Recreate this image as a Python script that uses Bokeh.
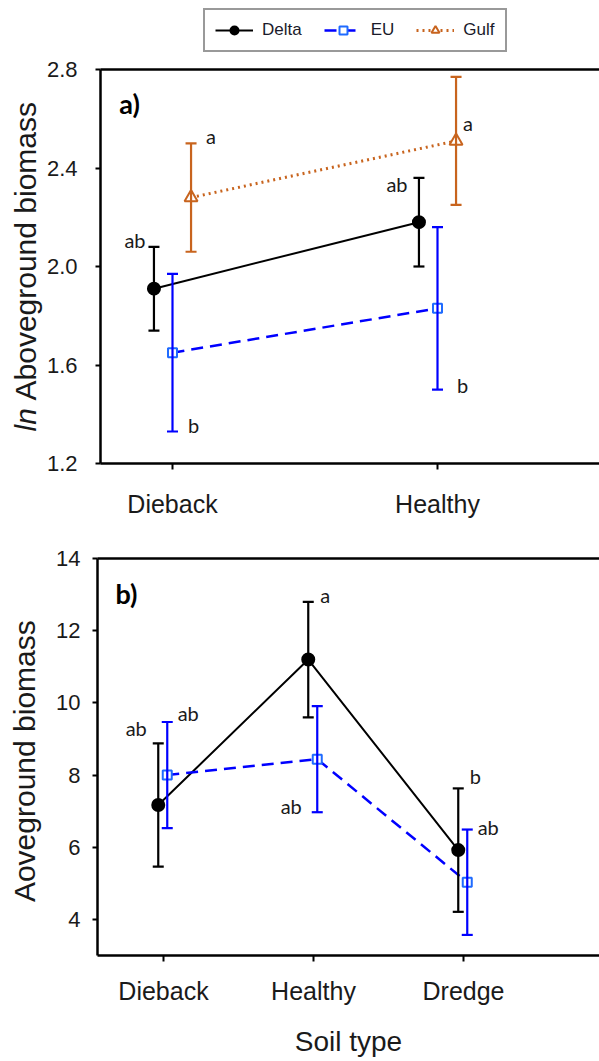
import math
from bokeh.plotting import figure
from bokeh.models import (ColumnDataSource, Whisker, TeeHead, FixedTicker, Legend,
                          LegendItem, Label, LinearAxis, Range1d, PrintfTickFormatter)
from bokeh.layouts import column
from bokeh.embed import file_html
from bokeh.resources import INLINE
from bokeh.core.properties import value

# ---------------- data ----------------
a_soils = ["Dieback", "Healthy"]
a_delta_mean = [1.91, 2.18]
a_delta_se = [0.17, 0.18]
a_eu_mean = [1.65, 1.83]
a_eu_se = [0.32, 0.33]
a_gulf_mean = [2.28, 2.51]
a_gulf_se = [0.22, 0.26]
a_delta_letters = ["ab", "ab"]
a_eu_letters = ["b", "b"]
a_gulf_letters = ["a", "a"]
a_yticks = [1.2, 1.6, 2.0, 2.4, 2.8]

b_soils = ["Dieback", "Healthy", "Dredge"]
b_delta_mean = [7.17, 11.2, 5.92]
b_delta_se = [1.71, 1.6, 1.71]
b_eu_mean = [8.0, 8.44, 5.03]
b_eu_se = [1.47, 1.47, 1.46]
b_delta_letters = ["ab", "a", "b"]
b_eu_letters = ["ab", "ab", "ab"]
b_yticks = [4, 6, 8, 10, 12, 14]

series_names = ["Delta", "EU", "Gulf"]

# ---------------- styles ----------------
BLACK = "#000000"
BLUE = "#0000ff"
BLUE_MK = "#1f6bff"
ORANGE = "#c8641e"
TXT = "#1a1a1a"
TICK_FONT = "Liberation Sans"
LETTER_FONT = "Lato"
W = 599

# letter placement: (anchor, dx px, dy px)
a_delta_lpos = [("hi", -19, -7), ("hi", -22, 6)]
a_eu_lpos = [("lo", 21, -6), ("lo", 25, -5)]
a_gulf_lpos = [("hi", 20, -7), ("mid", 12, -18)]
b_delta_lpos = [("hi", -22, -15), ("hi", 17, -7), ("hi", 17, -12)]
b_eu_lpos = [("hi", 21, -9), ("lo", -26, -6), ("hi", 21, -3)]


def style_axis(ax):
    ax.axis_line_width = 2.5
    ax.axis_line_color = BLACK
    ax.major_tick_line_width = 2
    ax.major_tick_line_color = BLACK
    ax.major_tick_in = 0
    ax.major_tick_out = 5
    ax.minor_tick_line_color = None
    ax.major_label_text_font = TICK_FONT
    ax.major_label_text_color = TXT


def setup(p, x_axis_at, y_axis_at, xend, ybot, ytop, yticks, xticks, xlabels, y_standoff, yfmt):
    p.xgrid.visible = False
    p.ygrid.visible = False
    p.outline_line_color = None
    xax = p.below[0]
    yax = p.left[0]
    style_axis(xax)
    style_axis(yax)
    yax.fixed_location = y_axis_at
    yax.bounds = (ybot, ytop)
    yax.ticker = FixedTicker(ticks=yticks)
    yax.formatter = PrintfTickFormatter(format=yfmt)
    yax.major_label_text_font_size = "22px"
    yax.major_label_standoff = y_standoff
    xax.fixed_location = x_axis_at
    xax.bounds = (y_axis_at, xend)
    xax.ticker = FixedTicker(ticks=xticks)
    xax.major_label_overrides = {t: lab for t, lab in zip(xticks, xlabels)}
    xax.major_label_text_font_size = "25px"
    xax.major_tick_out = 6
    top = LinearAxis(ticker=FixedTicker(ticks=[]), major_label_text_font_size="0px",
                     major_tick_line_color=None, minor_tick_line_color=None,
                     axis_line_width=2.5, axis_line_color=BLACK, major_label_standoff=0,
                     fixed_location=ytop, bounds=(y_axis_at, xend))
    p.add_layout(top, "above")
    return xax, yax


def add_series(p, xs, means, ses, color, err_color, marker, msize, mfill, mline,
               dash, lwidth, letters, lpos):
    lo = [m - s for m, s in zip(means, ses)]
    hi = [m + s for m, s in zip(means, ses)]
    src = ColumnDataSource(dict(x=xs, y=means, lo=lo, hi=hi))
    w = Whisker(source=src, base="x", lower="lo", upper="hi", line_color=err_color,
                line_width=2.2, level="glyph",
                upper_head=TeeHead(size=11, line_color=err_color, line_width=2.2),
                lower_head=TeeHead(size=11, line_color=err_color, line_width=2.2))
    p.add_layout(w)
    ln = p.line("x", "y", source=src, line_color=color, line_width=lwidth, line_dash=dash)
    sc = p.scatter("x", "y", source=src, marker=marker, size=msize, fill_color=mfill,
                   line_color=mline, line_width=2)
    lx, ly, ldx, ldy = [], [], [], []
    for i, (anchor, dx, dy) in enumerate(lpos):
        lx.append(xs[i])
        ly.append({"hi": hi[i], "lo": lo[i], "mid": means[i]}[anchor])
        ldx.append(dx)
        ldy.append(dy)
    tsrc = ColumnDataSource(dict(x=lx, y=ly, t=letters, dx=ldx, dy=ldy))
    p.text("x", "y", text="t", x_offset="dx", y_offset="dy", source=tsrc,
           text_align="center", text_baseline="middle", text_font=value(LETTER_FONT),
           text_font_size="20px", text_color=TXT)
    return ln, sc


# ---------------- panel a ----------------
# frame covers the whole canvas; axes are placed at fixed locations
HA = 530
a_x = [i + 1 for i in range(len(a_soils))]
off_a = {"Delta": -0.07, "EU": 0.0, "Gulf": 0.07}
a_ppu = 265.0           # px per category step
a_left = 1 - 72 / a_ppu  # y-axis position
a_ypx = 394 / 1.6        # px per unit
pa = figure(width=W, height=HA, output_backend="svg", toolbar_location=None,
            x_range=Range1d(1 - 172 / a_ppu, 2 + (W - 437) / a_ppu),
            y_range=Range1d(1.2 - (HA - 463) / a_ypx, 2.8 + 69 / a_ypx),
            min_border=0)
pa.min_border_left = pa.min_border_right = pa.min_border_top = pa.min_border_bottom = 0
setup(pa, 1.2, a_left, 2 + (W - 437) / a_ppu, 1.2, 2.8, a_yticks, a_x, a_soils, 18, "%.1f")
pa.below[0].major_label_standoff = 20

l1, s1 = add_series(pa, [x + off_a["Delta"] for x in a_x], a_delta_mean, a_delta_se, BLACK, BLACK,
                    "circle", 12, BLACK, BLACK, "solid", 2, a_delta_letters, a_delta_lpos)
l2, s2 = add_series(pa, [x + off_a["EU"] for x in a_x], a_eu_mean, a_eu_se, BLUE, BLUE,
                    "square", 9, "white", BLUE_MK, "12 7", 2.5, a_eu_letters, a_eu_lpos)
l3, s3 = add_series(pa, [x + off_a["Gulf"] for x in a_x], a_gulf_mean, a_gulf_se, ORANGE, ORANGE,
                    "triangle", 13, "white", ORANGE, "2 4", 3, a_gulf_letters, a_gulf_lpos)

pa.add_layout(Label(x=129, y=HA - 103, x_units="screen", y_units="screen", text="a)",
                    text_font=LETTER_FONT, text_font_style="bold", text_font_size="27px",
                    text_align="center", text_baseline="middle", text_color=BLACK))
pa.add_layout(Label(x=25, y=HA - 431, x_units="screen", y_units="screen", text="ln",
                    angle=math.pi / 2, text_font=TICK_FONT, text_font_style="italic",
                    text_font_size="30px", text_align="left", text_baseline="middle",
                    text_color=TXT))
pa.add_layout(Label(x=25, y=HA - 400, x_units="screen", y_units="screen",
                    text="Aboveground  biomass", angle=math.pi / 2, text_font=TICK_FONT,
                    text_font_size="30px", text_align="left", text_baseline="middle",
                    text_color=TXT))

legend = Legend(items=[LegendItem(label=series_names[0], renderers=[l1, s1]),
                       LegendItem(label=series_names[1], renderers=[l2, s2]),
                       LegendItem(label=series_names[2], renderers=[l3, s3])],
                location=(203, HA - 52), orientation="horizontal",
                border_line_color="#333333", border_line_width=2, padding=10,
                spacing=22, label_standoff=9, glyph_width=38, glyph_height=20,
                label_text_font=TICK_FONT, label_text_font_size="17px",
                label_text_color="#1a1a2a", margin=0)
pa.add_layout(legend)

# ---------------- panel b ----------------
HB = 531
b_x = [i + 1 for i in range(len(b_soils))]
off_b = {"Delta": -0.035, "EU": 0.025}
b_ppu = 150.0
b_left = 1 - 66 / b_ppu
b_ypx = (425 - 28) / 11.0
pb = figure(width=W, height=HB, output_backend="svg", toolbar_location=None,
            x_range=Range1d(1 - 163 / b_ppu, 3 + (W - 463) / b_ppu),
            y_range=Range1d(3 - (HB - 425) / b_ypx, 14 + 28 / b_ypx),
            min_border=0)
pb.min_border_left = pb.min_border_right = pb.min_border_top = pb.min_border_bottom = 0
bx, by = setup(pb, 3, b_left, 3 + (W - 463) / b_ppu, 3, 14, b_yticks, b_x, b_soils, 12, "%d")
bx.major_label_standoff = 15
bx.axis_label = "Soil type"
bx.axis_label_text_font = TICK_FONT
bx.axis_label_text_font_style = "normal"
bx.axis_label_text_font_size = "28px"
bx.axis_label_standoff = 18
bx.axis_label_text_color = TXT
by.axis_label = "Aoveground  biomass"
by.axis_label_text_font = TICK_FONT
by.axis_label_text_font_style = "normal"
by.axis_label_text_font_size = "30px"
by.axis_label_standoff = 12
by.axis_label_text_color = TXT

add_series(pb, [x + off_b["Delta"] for x in b_x], b_delta_mean, b_delta_se, BLACK, BLACK,
           "circle", 12, BLACK, BLACK, "solid", 2, b_delta_letters, b_delta_lpos)
add_series(pb, [x + off_b["EU"] for x in b_x], b_eu_mean, b_eu_se, BLUE, BLUE,
           "square", 9, "white", BLUE_MK, "12 7", 2.5, b_eu_letters, b_eu_lpos)

pb.add_layout(Label(x=126, y=HB - (593 - 530), x_units="screen", y_units="screen", text="b)",
                    text_font=LETTER_FONT, text_font_style="bold", text_font_size="27px",
                    text_align="center", text_baseline="middle", text_color=BLACK))

layout = column(pa, pb, spacing=0)
open("out.html", "w").write(file_html(layout, INLINE))
